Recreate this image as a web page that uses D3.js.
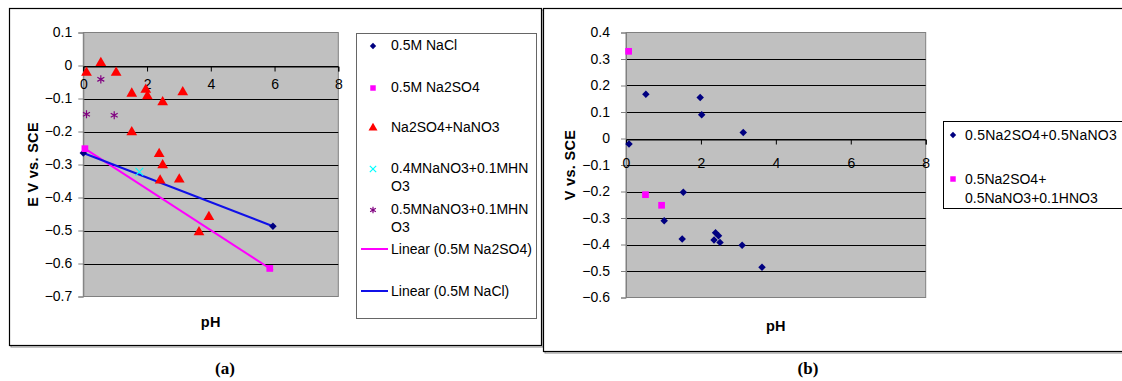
<!DOCTYPE html>
<html><head><meta charset="utf-8">
<script src="https://cdn.jsdelivr.net/npm/d3@7"></script>
<style>
body{margin:0;background:#fff;}
svg text{font-family:"Liberation Sans",Arial,sans-serif;}
</style></head>
<body><svg id="c" width="1122" height="381"></svg>
<script>
// ---------- DATA ----------
// Chart (a)
const aTicksX = [0, 2, 4, 6, 8];
const aTicksY = [0.1, 0, -0.1, -0.2, -0.3, -0.4, -0.5, -0.6, -0.7];
const naclX = [0.0, 5.95];
const naclY = [-0.265, -0.487];
const na2so4X = [0.05, 5.85];
const na2so4Y = [-0.252, -0.615];
const mixX = [0.1, 0.55, 1.03, 1.52, 1.96, 2.01, 2.49, 3.12, 1.52, 2.38, 2.49, 2.41, 3.01, 3.94, 3.63];
const mixY = [-0.022, 0.008, -0.022, -0.085, -0.073, -0.093, -0.111, -0.081, -0.202, -0.268, -0.302, -0.348, -0.345, -0.459, -0.505];
const hno3aX = [1.76];
const hno3aY = [-0.322];
const hno3bX = [0.1, 0.55, 0.97];
const hno3bY = [-0.148, -0.042, -0.151];
const aLegend = ["0.5M NaCl", "0.5M Na2SO4", "Na2SO4+NaNO3", "0.4MNaNO3+0.1MHN|O3", "0.5MNaNO3+0.1MHN|O3", "Linear (0.5M Na2SO4)", "Linear (0.5M NaCl)"];
// Chart (b)
const bTicksX = [0, 2, 4, 6, 8];
const bTicksY = [0.4, 0.3, 0.2, 0.1, 0, -0.1, -0.2, -0.3, -0.4, -0.5, -0.6];
const bMixX = [0.08, 0.53, 1.98, 2.02, 3.13, 1.53, 1.02, 1.5, 2.39, 2.47, 2.35, 2.51, 3.1, 3.63];
const bMixY = [-0.021, 0.167, 0.155, 0.09, 0.023, -0.203, -0.31, -0.379, -0.356, -0.367, -0.383, -0.392, -0.403, -0.486];
const bAcidX = [0.07, 0.52, 0.95];
const bAcidY = [0.329, -0.212, -0.252];
const bLegend = ["0.5Na2SO4+0.5NaNO3", "0.5Na2SO4+|0.5NaNO3+0.1HNO3"];
const captions = ["(a)", "(b)"];

// ---------- DRAW ----------
const svg = d3.select("#c");
const FS = 14;

function frame(x, y, w, h) {
  svg.append("rect").attr("x", x + 1.5).attr("y", y + 1.5).attr("width", w).attr("height", h)
    .attr("fill", "none").attr("stroke", "#888").attr("stroke-width", 1);
  svg.append("rect").attr("x", x).attr("y", y).attr("width", w).attr("height", h)
    .attr("fill", "#fff").attr("stroke", "#000").attr("stroke-width", 1.2);
}
frame(9.5, 8.5, 532, 337);
frame(543.5, 8.5, 580, 343);

function txt(x, y, s, o = {}) {
  const t = svg.append("text").attr("x", x).attr("y", y)
    .attr("font-size", o.fs || FS).attr("fill", "#000")
    .attr("text-anchor", o.anchor || "start")
    .attr("letter-spacing", o.ls != null ? o.ls : 0)
    .attr("dominant-baseline", "central");
  if (o.bold) t.attr("font-weight", "bold");
  if (o.family) t.style("font-family", o.family);
  if (o.rot) t.attr("transform", `rotate(-90,${x},${y})`);
  t.text(s);
  return t;
}

const sym = {
  diamond: d3.symbol().type(d3.symbolSquare),
  square: d3.symbol().type(d3.symbolSquare),
  triangle: d3.symbol().type(d3.symbolTriangle),
  x: d3.symbol().type(d3.symbolX),
  star: d3.symbol().type(d3.symbolAsterisk)
};
function marker(g, type, size, color, x, y) {
  const rot = type === "diamond" ? " rotate(45)" : "";
  const p = g.append("path").attr("transform", `translate(${x},${y})${rot}`)
    .attr("d", sym[type].size(size)());
  if (type === "x" || type === "star") p.attr("fill", "none").attr("stroke", color).attr("stroke-width", 1.2);
  else p.attr("fill", color);
}

function fit(xs, ys) {
  const n = xs.length, mx = d3.mean(xs), my = d3.mean(ys);
  let sxy = 0, sxx = 0;
  for (let i = 0; i < n; i++) { sxy += (xs[i] - mx) * (ys[i] - my); sxx += (xs[i] - mx) ** 2; }
  const b = sxy / sxx, a = my - b * mx;
  return x => a + b * x;
}

function plot(cfg) {
  const {x, y, ticksX, ticksY, labelPad, yPad, yTitle, yTitleX} = cfg;
  const g = svg.append("g");
  const [x0, x1] = x.range(), [y0, y1] = y.range();
  g.append("rect").attr("x", x0).attr("y", y1).attr("width", x1 - x0).attr("height", y0 - y1)
    .attr("fill", "#c0c0c0").attr("stroke", "#808080").attr("stroke-width", 1);
  g.selectAll(".grid").data(ticksY.filter(v => v !== ticksY[0] && v !== ticksY[ticksY.length - 1]))
    .join("line").attr("x1", x0).attr("x2", x1)
    .attr("y1", d => Math.round(y(d)) + 0.5).attr("y2", d => Math.round(y(d)) + 0.5)
    .attr("stroke", "#000").attr("stroke-width", 1);
  const ya = g.append("g").attr("transform", `translate(${x0},0)`)
    .call(d3.axisLeft(y).tickValues(ticksY).tickSize(5).tickPadding(yPad).tickFormat(d3.format("")));
  ya.select(".domain").attr("stroke", "#808080");
  ya.selectAll("line").attr("stroke", "#808080");
  ya.selectAll("text").attr("font-size", FS)
    .style("font-family", '"Liberation Sans",Arial,sans-serif').attr("fill", "#000");
  const xa = g.append("g").attr("transform", `translate(0,${Math.round(y(0)) + 0.5})`)
    .call(d3.axisBottom(x).tickValues(ticksX).tickSize(5).tickPadding(labelPad).tickFormat(d3.format("d")));
  xa.select(".domain").attr("stroke", "#000");
  xa.selectAll("line").attr("stroke", "#000");
  xa.selectAll("text").attr("font-size", FS)
    .style("font-family", '"Liberation Sans",Arial,sans-serif').attr("fill", "#000");
  txt(yTitleX, (y0 + y1) / 2, yTitle, {bold: true, anchor: "middle", rot: true, ls: 0.3, fs: 14.5});
  txt((x0 + x1) / 2, cfg.pHy, "pH", {bold: true, anchor: "middle", ls: 0.3, fs: 14.5});
  return g;
}

// ---- chart (a)
const xA = d3.scaleLinear([0, 8], [83.3, 338.3]);
const yA = d3.scaleLinear([-0.7, 0.1], [296.5, 32.5]);
const gA = plot({x: xA, y: yA, ticksX: aTicksX, ticksY: aTicksY, labelPad: 8, yPad: 6, yTitle: "E V vs. SCE", yTitleX: 33, pHy: 322});
const fS = fit(na2so4X, na2so4Y), fN = fit(naclX, naclY);
const xsS = d3.extent(na2so4X), xsN = d3.extent(naclX);
gA.append("line").attr("x1", xA(xsS[0] - 0.05)).attr("x2", xA(xsS[1] + 0.1))
  .attr("y1", yA(fS(xsS[0] - 0.05))).attr("y2", yA(fS(xsS[1] + 0.1)))
  .attr("stroke", "#ff00ff").attr("stroke-width", 2);
gA.append("line").attr("x1", xA(xsN[0])).attr("x2", xA(xsN[1]))
  .attr("y1", yA(fN(xsN[0]))).attr("y2", yA(fN(xsN[1])))
  .attr("stroke", "#1010e8").attr("stroke-width", 2);
naclX.forEach((v, i) => marker(gA, "diamond", 28, "#000080", xA(v), yA(naclY[i])));
na2so4X.forEach((v, i) => marker(gA, "square", 45, "#ff00ff", xA(v), yA(na2so4Y[i])));
mixX.forEach((v, i) => marker(gA, "triangle", 50, "#ff0000", xA(v), yA(mixY[i])));
hno3aX.forEach((v, i) => marker(gA, "x", 40, "#00ffff", xA(v), yA(hno3aY[i])));
hno3bX.forEach((v, i) => marker(gA, "star", 45, "#800080", xA(v), yA(hno3bY[i])));

// legend (a)
svg.append("rect").attr("x", 356.5).attr("y", 33.5).attr("width", 180).attr("height", 285)
  .attr("fill", "#fff").attr("stroke", "#666").attr("stroke-width", 1);
const legA = svg.append("g");
const aLegY = [45, 87, 127, 168, 209, 249, 291];
const aLegM = [["diamond", 20, "#000080"], ["square", 30, "#ff00ff"], ["triangle", 35, "#ff0000"],
  ["x", 28, "#00ffff"], ["star", 30, "#800080"], ["line", 0, "#ff00ff"], ["line", 0, "#1010e8"]];
aLegend.forEach((s, i) => {
  const [t, sz, c] = aLegM[i];
  if (t === "line") legA.append("line").attr("x1", 361).attr("x2", 388).attr("y1", aLegY[i]).attr("y2", aLegY[i])
    .attr("stroke", c).attr("stroke-width", 2);
  else marker(legA, t, sz, c, 373, aLegY[i] + 1);
  s.split("|").forEach((l, j) => txt(391, aLegY[i] + j * 18, l));
});

// ---- chart (b)
const xB = d3.scaleLinear([0, 8], [626, 925.7]);
const yB = d3.scaleLinear([-0.6, 0.4], [297.5, 32.5]);
const gB = plot({x: xB, y: yB, ticksX: bTicksX, ticksY: bTicksY, labelPad: 14, yPad: 11, yTitle: "V vs. SCE", yTitleX: 570, pHy: 326});
bMixX.forEach((v, i) => marker(gB, "diamond", 28, "#000080", xB(v), yB(bMixY[i])));
bAcidX.forEach((v, i) => marker(gB, "square", 45, "#ff00ff", xB(v), yB(bAcidY[i])));

// legend (b)
svg.append("rect").attr("x", 943.5).attr("y", 121.5).attr("width", 200).attr("height", 87)
  .attr("fill", "#fff").attr("stroke", "#000").attr("stroke-width", 1);
const legB = svg.append("g");
const bLegY = [135, 179];
const bLegM = [["diamond", 20, "#000080"], ["square", 30, "#ff00ff"]];
bLegend.forEach((s, i) => {
  const [t, sz, c] = bLegM[i];
  marker(legB, t, sz, c, 953, bLegY[i]);
  s.split("|").forEach((l, j) => txt(965, bLegY[i] + j * 19, l, {ls: i === 0 ? 0.25 : 0}));
});

// captions
txt(225, 368, captions[0], {bold: true, anchor: "middle", fs: 17, ls: 0, family: '"Liberation Serif","Times New Roman",serif'});
txt(808, 368, captions[1], {bold: true, anchor: "middle", fs: 17, ls: 0, family: '"Liberation Serif","Times New Roman",serif'});
</script></body></html>
